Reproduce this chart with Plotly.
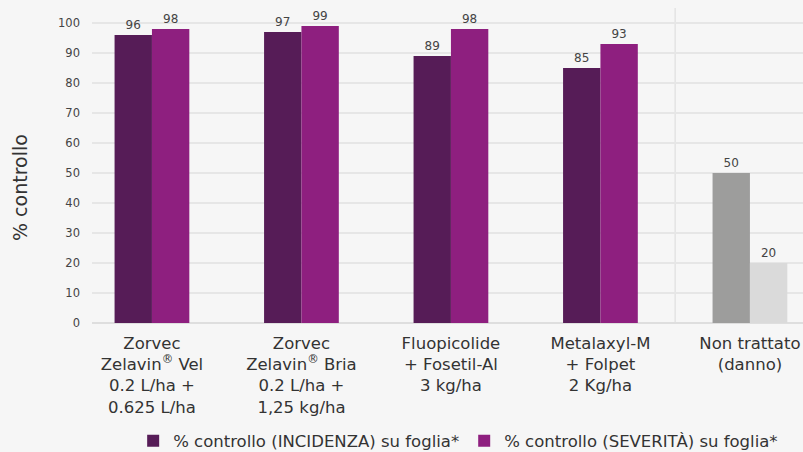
import plotly.graph_objects as go

categories = [
    "Zorvec<br>Zelavin<sup>®</sup> Vel<br>0.2 L/ha +<br>0.625 L/ha",
    "Zorvec<br>Zelavin<sup>®</sup> Bria<br>0.2 L/ha +<br>1,25 kg/ha",
    "Fluopicolide<br>+ Fosetil-Al<br>3 kg/ha",
    "Metalaxyl-M<br>+ Folpet<br>2 Kg/ha",
    "Non trattato<br>(danno)",
]
incidenza = [96, 97, 89, 85, 50]
severita = [98, 99, 98, 93, 20]
series_names = ["% controllo (INCIDENZA) su foglia*", "% controllo (SEVERITÀ) su foglia*"]
y_ticks = [0, 10, 20, 30, 40, 50, 60, 70, 80, 90, 100]

DARK = "#561c57"
MAG = "#8e1f7f"
GREY = "#9d9d9c"
LGREY = "#dadada"
FONT = "DejaVu Sans"

x = list(range(len(categories)))

fig = go.Figure()
fig.add_trace(go.Bar(
    x=x, y=incidenza, name=series_names[0],
    marker=dict(color=[DARK] * 4 + [GREY], line=dict(width=0)),
    text=[str(v) for v in incidenza], textposition="outside",
    textfont=dict(size=12, color="#444444", family=FONT), cliponaxis=False,
))
fig.add_trace(go.Bar(
    x=x, y=severita, name=series_names[1],
    marker=dict(color=[MAG] * 4 + [LGREY], line=dict(width=0)),
    text=[str(v) for v in severita], textposition="outside",
    textfont=dict(size=12, color="#444444", family=FONT), cliponaxis=False,
))

fig.add_shape(type="line", xref="x", yref="paper", x0=3.5, x1=3.5, y0=0, y1=1,
              line=dict(color="#e3e3e3", width=1.5), layer="below")

fig.add_annotation(text="% controllo", textangle=-90, xref="paper", yref="paper",
                   x=(20 - 92) / 711, y=(323 - 188) / 315, xanchor="center", yanchor="middle",
                   showarrow=False, font=dict(size=19, color="#333333", family=FONT))

fig.update_layout(
    width=803, height=452,
    margin=dict(l=92, r=0, t=8, b=129, autoexpand=False),
    paper_bgcolor="#f6f6f6", plot_bgcolor="#f6f6f6",
    barmode="group", bargap=0.5, bargroupgap=0,
    font=dict(family=FONT, color="#333333"),
    showlegend=True,
    legend=dict(orientation="h", x=0.515, xanchor="center", y=-0.375, yanchor="middle",
                font=dict(size=16.5, color="#333333", family=FONT),
                traceorder="normal", bgcolor="rgba(0,0,0,0)"),
    xaxis=dict(
        tickmode="array", tickvals=x, ticktext=categories,
        range=[-0.401, 4.355], showgrid=False, zeroline=False, showline=False,
        tickfont=dict(size=16.5, color="#333333", family=FONT), ticks="",
        ticklabelstandoff=8, automargin=False,
    ),
    yaxis=dict(
        range=[0, 105], tickvals=y_ticks, showgrid=True, gridcolor="#e6e6e6", gridwidth=1.5,
        zeroline=True, zerolinecolor="#dedede", zerolinewidth=1.5, showline=False,
        tickfont=dict(size=11.5, color="#444444", family=FONT), ticks="",
        ticklabelstandoff=11, automargin=False,
    ),
)

fig.write_html("out.html", config={"displayModeBar": False})

with open("out.html", encoding="utf-8") as f:
    html = f.read()
html = html.replace("<body>", '<body style="margin:0;padding:0;overflow:hidden">', 1)
with open("out.html", "w", encoding="utf-8") as f:
    f.write(html)
